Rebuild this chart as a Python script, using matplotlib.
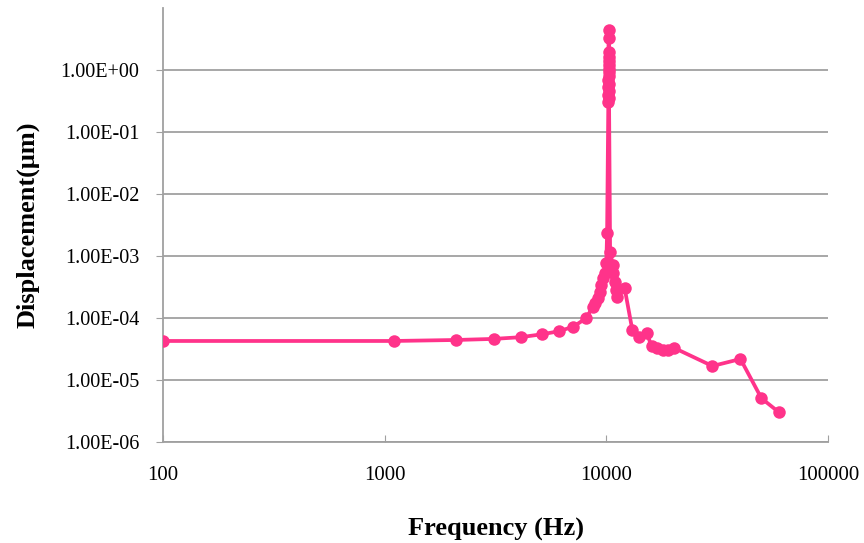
import matplotlib.pyplot as plt
from matplotlib.ticker import FixedLocator, FixedFormatter, NullLocator

# Частота (Гц) і переміщення (мкм)
freq = [100, 1100, 2100, 3100, 4100, 5100, 6100, 7100, 8100,
        8700, 8900, 9200, 9350, 9500, 9700, 9850, 10000, 10080,
        10210, 10215, 10220, 10225, 10230, 10235, 10240, 10245, 10250,
        10255, 10260, 10265, 10270, 10275, 10280, 10285,
        10400, 10700, 10750, 10900, 11100, 11150, 12100,
        13100, 14100, 15200, 16000, 17000, 18000, 19000, 20200,
        30100, 40300, 50100, 60200]
disp = [4.26e-5, 4.26e-5, 4.42e-5, 4.6e-5, 4.9e-5, 5.45e-5, 6.1e-5, 7.25e-5, 9.9e-5,
        1.52e-4, 1.73e-4, 2.08e-4, 2.66e-4, 3.4e-4, 4.37e-4, 5.26e-4, 7.6e-4, 2.32e-3,
        0.31, 0.40, 0.53, 0.70, 0.92, 1.20, 1.65, 3.24, 4.42,
        1.97, 1.40, 1.05, 0.80, 0.60, 0.46, 0.35,
        1.17e-3, 7.2e-4, 5.3e-4, 3.85e-4, 2.83e-4, 2.2e-4, 3.0e-4,
        6.4e-5, 5.0e-5, 5.8e-5, 3.5e-5, 3.24e-5, 3.05e-5, 3.05e-5, 3.3e-5,
        1.68e-5, 2.18e-5, 5.07e-6, 3.0e-6]

y_ticks = [1e-6, 1e-5, 1e-4, 1e-3, 1e-2, 1e-1, 1e0]
y_labels = ['1.00E-06', '1.00E-05', '1.00E-04', '1.00E-03', '1.00E-02', '1.00E-01', '1.00E+00']
x_ticks = [100, 1000, 10000, 100000]
x_labels = ['100', '1000', '10000', '100000']

plt.rcParams['font.family'] = ['Liberation Serif', 'DejaVu Serif']

fig = plt.figure(figsize=(8.64, 5.43), dpi=100)
ax = fig.add_axes([0.1887, 0.186, 0.7696, 0.7993])

ax.plot(freq, disp, color='#ff338a', linewidth=2.7, marker='o', markersize=9,
        markeredgewidth=0, zorder=3)

ax.set_xscale('log')
ax.set_yscale('log')
ax.set_xlim(100, 100000)
ax.set_ylim(1e-6, 1e1)

ax.yaxis.set_major_locator(FixedLocator(y_ticks))
ax.yaxis.set_major_formatter(FixedFormatter(y_labels))
ax.yaxis.set_minor_locator(NullLocator())
ax.xaxis.set_major_locator(FixedLocator(x_ticks))
ax.xaxis.set_major_formatter(FixedFormatter(x_labels))
ax.xaxis.set_minor_locator(NullLocator())

ax.grid(True, axis='y', color='#a0a0a0', linewidth=1.3, zorder=0)
for s in ['top', 'right']:
    ax.spines[s].set_visible(False)
for s in ['left', 'bottom']:
    ax.spines[s].set_color('#a0a0a0')
    ax.spines[s].set_linewidth(1.3)

ax.tick_params(axis='y', direction='out', length=5, color='#a0a0a0', labelsize=14.5, pad=12)
ax.tick_params(axis='x', direction='in', length=5, color='#a0a0a0', labelsize=15, pad=17)

ax.set_xlabel('Frequency (Hz)', fontsize=19, fontweight='bold', labelpad=24)
ax.set_ylabel('Displacement(μm)', fontsize=19, fontweight='bold', labelpad=15)

fig.savefig('out.png', dpi=100)
